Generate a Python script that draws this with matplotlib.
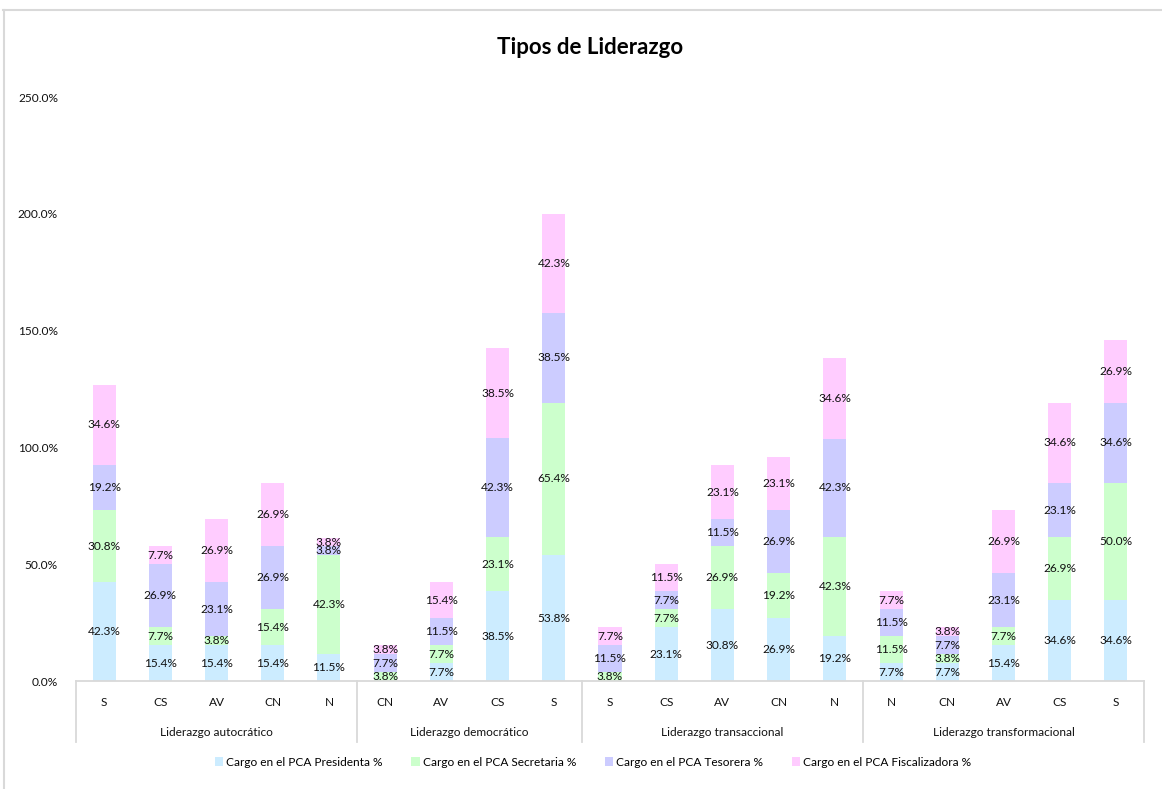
import matplotlib
matplotlib.use("Agg")
import matplotlib.pyplot as plt
from matplotlib.patches import Patch
from matplotlib.lines import Line2D
import numpy as np

plt.rcParams["font.family"] = ["Lato", "DejaVu Sans"]

title = "Tipos de Liderazgo"
groups = ["Liderazgo autocrático", "Liderazgo democrático",
          "Liderazgo transaccional", "Liderazgo transformacional"]
group_categories = [
    ["S", "CS", "AV", "CN", "N"],
    ["CN", "AV", "CS", "S"],
    ["S", "CS", "AV", "CN", "N"],
    ["N", "CN", "AV", "CS", "S"],
]
series_names = ["Cargo en el PCA Presidenta %", "Cargo en el PCA Secretaria %",
                "Cargo en el PCA Tesorera %", "Cargo en el PCA Fiscalizadora %"]
series_colors = ["#CCECFF", "#CCFFCC", "#CCCCFF", "#FFCCFF"]

presidenta = [42.3, 15.4, 15.4, 15.4, 11.5,
              0.0, 7.7, 38.5, 53.8,
              0.0, 23.1, 30.8, 26.9, 19.2,
              7.7, 7.7, 15.4, 34.6, 34.6]
secretaria = [30.8, 7.7, 3.8, 15.4, 42.3,
              3.8, 7.7, 23.1, 65.4,
              3.8, 7.7, 26.9, 19.2, 42.3,
              11.5, 3.8, 7.7, 26.9, 50.0]
tesorera = [19.2, 26.9, 23.1, 26.9, 3.8,
            7.7, 11.5, 42.3, 38.5,
            11.5, 7.7, 11.5, 26.9, 42.3,
            11.5, 7.7, 23.1, 23.1, 34.6]
fiscalizadora = [34.6, 7.7, 26.9, 26.9, 3.8,
                 3.8, 15.4, 38.5, 42.3,
                 7.7, 11.5, 23.1, 23.1, 34.6,
                 7.7, 3.8, 26.9, 34.6, 26.9]

series = [presidenta, secretaria, tesorera, fiscalizadora]
categories = [c for g in group_categories for c in g]
n = len(categories)
x = np.arange(n)

FS = 8.6
TXT = "#111111"

W, H = 1162, 789
fig = plt.figure(figsize=(W / 100, H / 100), dpi=100)
ax = fig.add_axes([76 / W, (H - 681) / H, 1068 / W, 584 / H])

bottom = np.zeros(n)
for vals, col in zip(series, series_colors):
    vals = np.array(vals)
    ax.bar(x, vals, width=0.41, bottom=bottom, color=col, edgecolor="none")
    for xi, b, v in zip(x, bottom, vals):
        if v > 0:
            ax.text(xi, b + v / 2, f"{v:.1f}%", ha="center", va="center",
                    fontsize=FS, color=TXT)
    bottom += vals

ax.set_xlim(-0.5, n - 0.5)
ax.set_ylim(0, 250)
ax.set_yticks(np.arange(0, 251, 50))
ax.set_yticklabels([f"{v:.1f}%" for v in np.arange(0, 251, 50)])
ax.tick_params(axis="y", length=0, pad=13, labelsize=FS, labelcolor=TXT)
ax.set_xticks([])
for s in ax.spines.values():
    s.set_visible(False)

# multi-level category axis
tr = ax.get_xaxis_transform()
axis_col = "#D9D9D9"
ax.plot([-0.5, n - 0.5], [0, 0], transform=tr, color=axis_col, lw=1.3, clip_on=False)
depth = -(742 - 681) / 584
start = 0
bounds = [-0.5]
for g, cats in zip(groups, group_categories):
    end = start + len(cats)
    bounds.append(end - 0.5)
    for i, c in enumerate(cats):
        ax.text(start + i, -(702 - 681) / 584, c, transform=tr, ha="center",
                va="center", fontsize=FS, color=TXT)
    ax.text((start + end - 1) / 2, -(733 - 681) / 584, g, transform=tr,
            ha="center", va="center", fontsize=FS, color=TXT)
    start = end
for b in bounds:
    ax.plot([b, b], [0, depth], transform=tr, color=axis_col, lw=1.3, clip_on=False)

fig.text(590 / W, 1 - 47 / H, title, ha="center", va="center",
         fontsize=16, fontweight="bold", color="#000000")

handles = [Patch(facecolor=c, edgecolor="none") for c in series_colors]
fig.legend(handles, series_names, loc="center", ncol=4,
           bbox_to_anchor=(593 / W, 1 - 762 / H), frameon=False,
           fontsize=FS, handlelength=0.7, handleheight=0.7,
           handletextpad=0.25, columnspacing=2.4)

# chart frame
frame_col = "#D9D9D9"
fig.add_artist(Line2D([3 / W, 1.0], [1 - 9.5 / H] * 2, transform=fig.transFigure,
                      color=frame_col, lw=1.5))
fig.add_artist(Line2D([3.5 / W] * 2, [0.0, 1 - 9.5 / H], transform=fig.transFigure,
                      color=frame_col, lw=1.5))

fig.savefig("out.png", dpi=100)
